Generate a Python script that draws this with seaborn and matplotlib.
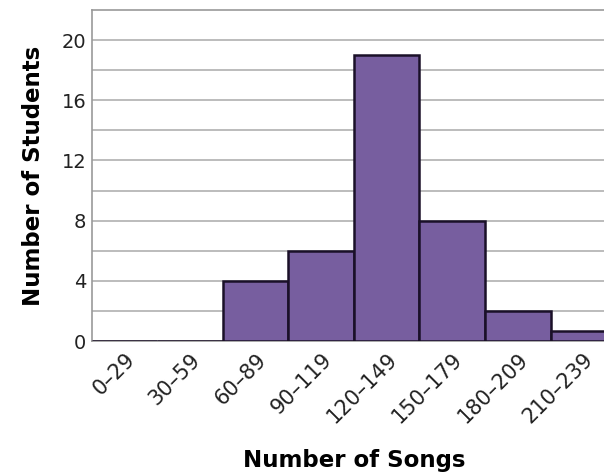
import matplotlib
matplotlib.use('Agg')
import matplotlib.pyplot as plt
import seaborn as sns
import pandas as pd

sns.set_style('white')
plt.rcParams['font.family'] = ['DejaVu Sans']

# data
song_ranges = ['0–29', '30–59', '60–89', '90–119', '120–149', '150–179', '180–209', '210–239']
students = [0, 0, 4, 6, 19, 8, 2, 0.7]

df = pd.DataFrame({'range': song_ranges, 'students': students})

fig = plt.figure(figsize=(6.04, 4.75), dpi=100)
ax = fig.add_axes([0.152, 0.282, 0.868, 0.697])

sns.barplot(data=df, x='range', y='students', width=1.0, color='#775e9f',
            saturation=1, edgecolor='#1a1028', linewidth=1.8, ax=ax, zorder=3)

ax.set_ylim(0, 22)
ax.set_xlim(-0.5, 7.5)
ax.set_yticks(range(0, 21, 4))
ax.set_yticks(range(0, 22, 2), minor=True)
ax.yaxis.grid(True, which='both', color='#b0b0b0', linewidth=1.2, zorder=0)
ax.set_axisbelow(True)
ax.tick_params(axis='both', which='both', length=0, pad=4)
ax.tick_params(axis='y', labelsize=14, colors='#222222')
ax.tick_params(axis='x', labelsize=15, colors='#222222', pad=6)
plt.setp(ax.get_xticklabels(), rotation=45, ha='right', rotation_mode='anchor')

for s in ['left', 'top', 'bottom']:
    ax.spines[s].set_color('#999999')
    ax.spines[s].set_linewidth(1.2)
ax.spines['right'].set_visible(False)

ax.set_xlabel('Number of Songs', fontsize=16.5, fontweight='bold', labelpad=16, color='black')
ax.set_ylabel('Number of Students', fontsize=16.5, fontweight='bold', labelpad=12, color='black')

fig.savefig('out.png', dpi=100)
